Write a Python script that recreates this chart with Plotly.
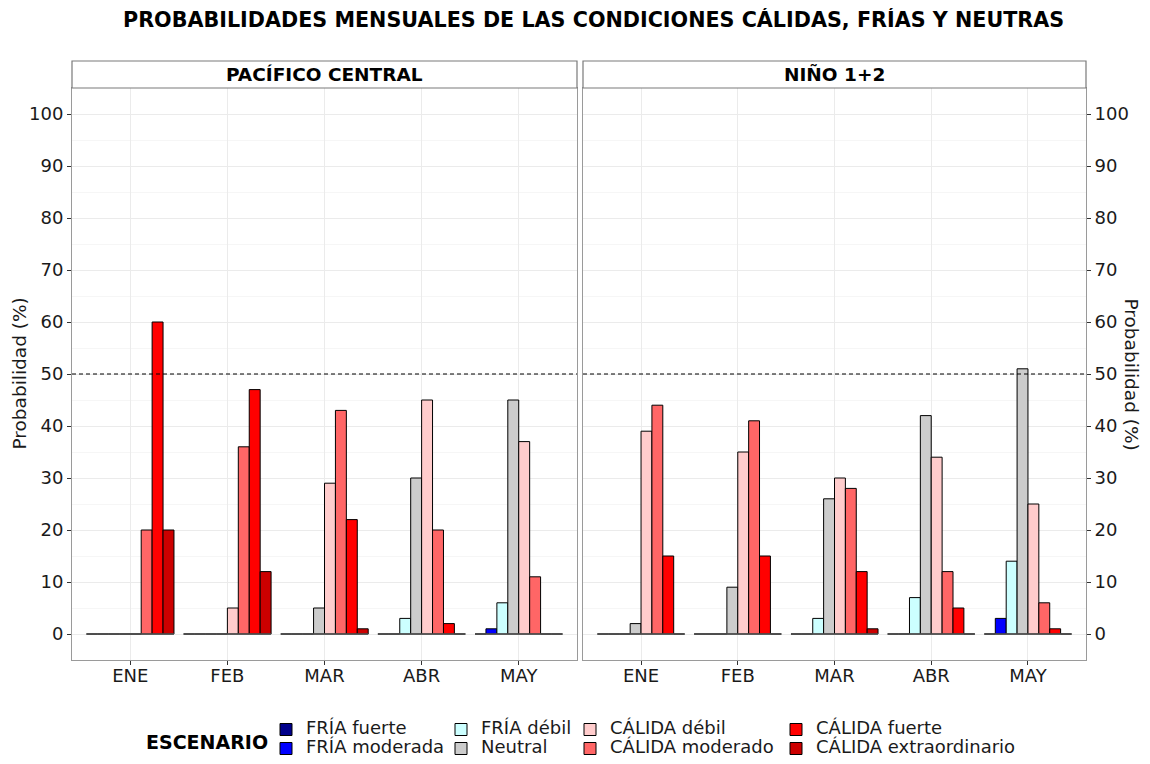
import plotly.graph_objects as go

# page body has an 8px margin; the figure is sized to fit the 1150x764 window
OFF = 8
W, H = 1150 - 2 * OFF, 764 - 2 * OFF

months = ["ENE", "FEB", "MAR", "ABR", "MAY"]
scenarios = ["FRÍA fuerte", "FRÍA moderada", "FRÍA débil", "Neutral",
             "CÁLIDA débil", "CÁLIDA moderado", "CÁLIDA fuerte", "CÁLIDA extraordinario"]
colors = ["#00008B", "#0000FF", "#CCFFFF", "#CCCCCC",
          "#FFCCCC", "#FF6666", "#FF0000", "#CC0000"]

# values per scenario, one value per month (ENE..MAY)
pac_fria_fuerte   = [0, 0, 0, 0, 0]
pac_fria_moderada = [0, 0, 0, 0, 1]
pac_fria_debil    = [0, 0, 0, 3, 6]
pac_neutral       = [0, 0, 5, 30, 45]
pac_calida_debil  = [0, 5, 29, 45, 37]
pac_calida_mod    = [20, 36, 43, 20, 11]
pac_calida_fuerte = [60, 47, 22, 2, 0]
pac_calida_extra  = [20, 12, 1, 0, 0]

n12_fria_fuerte   = [0, 0, 0, 0, 0]
n12_fria_moderada = [0, 0, 0, 0, 3]
n12_fria_debil    = [0, 0, 3, 7, 14]
n12_neutral       = [2, 9, 26, 42, 51]
n12_calida_debil  = [39, 35, 30, 34, 25]
n12_calida_mod    = [44, 41, 28, 12, 6]
n12_calida_fuerte = [15, 15, 12, 5, 1]
n12_calida_extra  = [0, 0, 1, 0, 0]

panels = [
    ("PACÍFICO CENTRAL", [pac_fria_fuerte, pac_fria_moderada, pac_fria_debil, pac_neutral,
                          pac_calida_debil, pac_calida_mod, pac_calida_fuerte, pac_calida_extra]),
    ("NIÑO 1+2", [n12_fria_fuerte, n12_fria_moderada, n12_fria_debil, n12_neutral,
                  n12_calida_debil, n12_calida_mod, n12_calida_fuerte, n12_calida_extra]),
]

legend_of = ["legend", "legend", "legend2", "legend2", "legend3", "legend3", "legend4", "legend4"]

FONT = "DejaVu Sans"
TXT = "#1a1a1a"

def px_x(p):
    return (p - OFF) / W

def px_y(p):
    return 1 - (p - OFF) / H

doms = [(px_x(72), px_x(577)), (px_x(583), px_x(1086))]
ydom = (px_y(660), px_y(88))

fig = go.Figure()
xidx = list(range(len(months)))

for pi, (pname, series) in enumerate(panels):
    xa = "x" if pi == 0 else "x2"
    ya = "y" if pi == 0 else "y2"
    # zero baseline of each month group
    zx, zy = [], []
    for i in xidx:
        zx += [i - 0.45, i + 0.45, None]
        zy += [0, 0, None]
    fig.add_trace(go.Scatter(x=zx, y=zy, mode="lines", xaxis=xa, yaxis=ya,
                             line=dict(color="#555555", width=1.4),
                             showlegend=False, hoverinfo="skip"))
    for si, vals in enumerate(series):
        fig.add_trace(go.Bar(
            x=xidx, y=vals,
            name=f'<span style="font-size:18px">{scenarios[si]}</span>',
            xaxis=xa, yaxis=ya,
            marker=dict(color=colors[si], line=dict(color="#000000", width=1)),
            showlegend=(pi == 0), legend=legend_of[si],
            offsetgroup=str(si),
            hovertemplate=scenarios[si] + ": %{y}%<extra></extra>",
        ))

axis_common = dict(showline=True, mirror=True, linecolor="#9a9a9a", linewidth=1,
                   ticks="outside", ticklen=4, tickcolor="#333333",
                   tickfont=dict(family=FONT, size=18, color=TXT),
                   gridcolor="#EBEBEB", gridwidth=1, zeroline=False)

for pi in range(2):
    sx = "" if pi == 0 else "2"
    fig.update_layout(**{
        "xaxis" + sx: dict(domain=list(doms[pi]), anchor="y" + sx, range=[-0.6, 4.6],
                           tickvals=xidx, ticktext=months, ticklabelstandoff=-5,
                           **axis_common),
        "yaxis" + sx: dict(domain=list(ydom), anchor="x" + sx, range=[-5, 105],
                           tickvals=list(range(0, 101, 10)),
                           side="left" if pi == 0 else "right",
                           minor=dict(dtick=5, showgrid=True, gridcolor="#F6F6F6", ticks=""),
                           **axis_common),
    })

shapes = []
annotations = []
for pi, (pname, _) in enumerate(panels):
    sx = "" if pi == 0 else "2"
    shapes.append(dict(type="line", xref=f"x{sx} domain", yref=f"y{sx}", x0=0, x1=1, y0=50, y1=50,
                       line=dict(color="#000000", width=1, dash="4px,3px"), layer="above"))
    shapes.append(dict(type="rect", xref="paper", yref="paper",
                       x0=doms[pi][0], x1=doms[pi][1], y0=px_y(88), y1=px_y(61),
                       line=dict(color="#7a7a7a", width=1.2), fillcolor="white"))
    annotations.append(dict(text=f"<b>{pname}</b>", xref="paper", yref="paper",
                            x=(doms[pi][0] + doms[pi][1]) / 2, y=px_y(74.5),
                            showarrow=False, xanchor="center", yanchor="middle",
                            font=dict(family=FONT, size=18.5, color="#000000")))

annotations.append(dict(text="<b>PROBABILIDADES MENSUALES DE LAS CONDICIONES CÁLIDAS, FRÍAS Y NEUTRAS</b>",
                        xref="paper", yref="paper", x=px_x(593), y=px_y(20), showarrow=False,
                        xanchor="center", yanchor="middle",
                        font=dict(family=FONT, size=20.7, color="#000000")))
annotations.append(dict(text="Probabilidad (%)", xref="paper", yref="paper", x=px_x(19.5), y=px_y(374),
                        showarrow=False, textangle=-90, xanchor="center", yanchor="middle",
                        borderpad=0,
                        font=dict(family=FONT, size=18.5, color=TXT)))
annotations.append(dict(text="Probabilidad (%)", xref="paper", yref="paper", x=px_x(1130.5), y=px_y(374),
                        showarrow=False, textangle=90, xanchor="center", yanchor="middle",
                        borderpad=0,
                        font=dict(family=FONT, size=18.5, color=TXT)))
annotations.append(dict(text="<b>ESCENARIO</b>", xref="paper", yref="paper", x=px_x(207), y=px_y(742),
                        showarrow=False, xanchor="center", yanchor="middle",
                        font=dict(family=FONT, size=19, color="#000000")))

# small legend font keeps the rows tight; the entry text itself is 18px via its span
leg_font = dict(family=FONT, size=12, color=TXT)
leg_x = [266, 441, 570, 776]
legs = {}
for k, name in enumerate(["legend", "legend2", "legend3", "legend4"]):
    legs[name] = dict(x=px_x(leg_x[k]), y=px_y(739), xanchor="left", yanchor="middle",
                      orientation="v", font=leg_font, bgcolor="rgba(0,0,0,0)",
                      borderwidth=0, tracegroupgap=0, itemclick=False)

fig.update_layout(
    width=W, height=H,
    margin=dict(l=0, r=0, t=0, b=0, autoexpand=False),
    paper_bgcolor="white", plot_bgcolor="white",
    barmode="group", bargap=0.1, bargroupgap=0,
    shapes=shapes, annotations=annotations,
    font=dict(family=FONT, color=TXT),
    **legs,
)

fig.write_html("out.html")
